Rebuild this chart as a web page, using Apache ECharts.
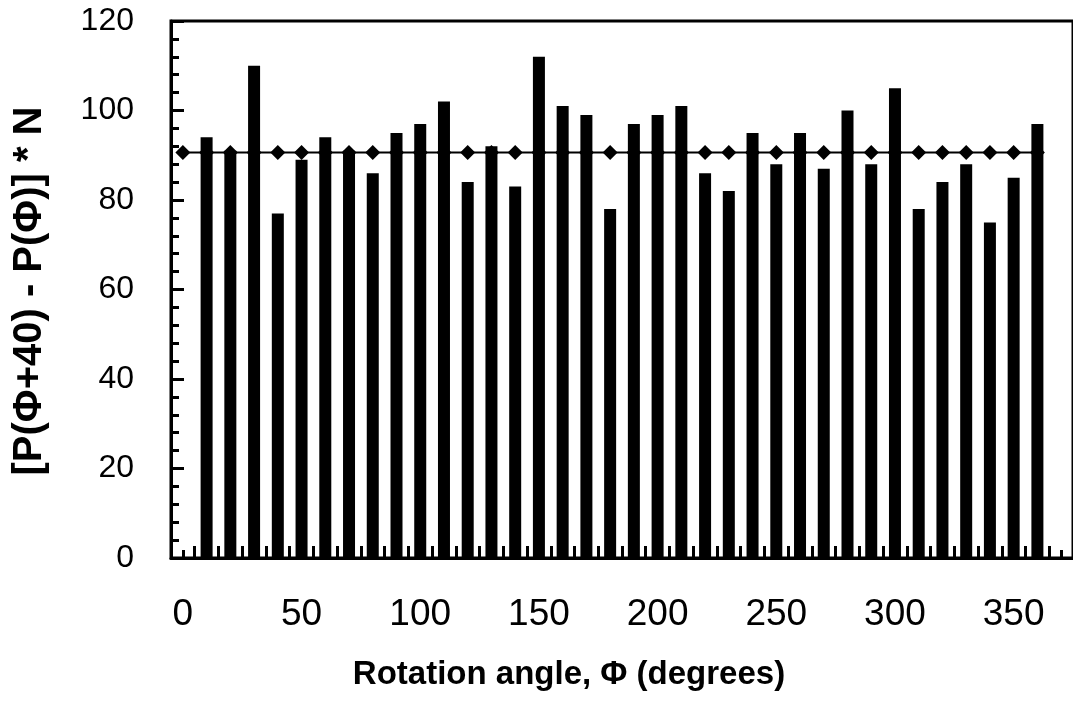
<!DOCTYPE html>
<html>
<head>
<meta charset="utf-8">
<script src="https://cdn.jsdelivr.net/npm/echarts@6/dist/echarts.min.js"></script>
<style>
html,body{margin:0;padding:0;background:#fff;}
#c{width:1073px;height:707px;}
</style>
</head>
<body>
<div id="c"></div>
<script>
// Categories: rotation angle (degrees)
var categories = ['0','10','20','30','40','50','60','70','80','90','100','110','120','130','140','150','160','170','180',
  '190','200','210','220','230','240','250','260','270','280','290','300','310','320','330','340','350','360','370'];
// Bar values [P(Φ+40) - P(Φ)] * N
var barValues = [null,94,91,110,77,89,94,91,86,95,97,102,84,92,83,112,101,99,78,
  97,99,101,86,82,95,88,95,87,100,88,105,78,84,88,75,85,97,null];
// Mean line
var meanValues = [90.6,90.6,90.6,90.6,90.6,90.6,90.6,90.6,90.6,90.6,90.6,90.6,90.6,90.6,90.6,90.6,90.6,90.6,90.6,
  90.6,90.6,90.6,90.6,90.6,90.6,90.6,90.6,90.6,90.6,90.6,90.6,90.6,90.6,90.6,90.6,90.6,90.6,null];
var yTicks = {min:0, max:120, interval:20};
var xTitle = 'Rotation angle, \u03A6 (degrees)';
var yTitle = '[P(\u03A6+40) - P(\u03A6)] * N';

var FONT = '"Liberation Sans", Arial, sans-serif';
var chart = echarts.init(document.getElementById('c'), null, {renderer:'canvas'});
chart.setOption({
  animation:false,
  backgroundColor:'#fff',
  grid:{left:171, right:-4, top:21, bottom:149, show:true, borderColor:'#000', borderWidth:3, backgroundColor:'transparent'},
  xAxis:[{
    type:'category', data:categories, position:'bottom',
    axisLine:{show:true, lineStyle:{color:'#000', width:3}},
    axisTick:{show:true, inside:true, length:12, interval:0, alignWithLabel:false, lineStyle:{color:'#000', width:3}},
    axisLabel:{show:true, interval:4, margin:38, fontSize:37, color:'#000', fontFamily:FONT},
    splitLine:{show:false}
  },{
    type:'category', data:categories, position:'bottom', offset:0,
    axisLine:{show:false},
    axisTick:{show:true, inside:true, length:8, alignWithLabel:true,
      interval:function(i){return i===0 || i===categories.length-1;},
      lineStyle:{color:'#000', width:3}},
    axisLabel:{show:false}, splitLine:{show:false}
  }],
  yAxis:{
    type:'value', min:yTicks.min, max:yTicks.max, interval:yTicks.interval,
    axisLine:{show:true, lineStyle:{color:'#000', width:3}},
    axisTick:{show:true, inside:true, length:13, lineStyle:{color:'#000', width:3}},
    minorTick:{show:true, splitNumber:5, length:8, lineStyle:{color:'#000', width:3}},
    axisLabel:{margin:37, fontSize:32, color:'#000', fontFamily:FONT},
    splitLine:{show:false}
  },
  series:[{
    type:'line', data:meanValues, z:1, xAxisIndex:0,
    symbol:'diamond', symbolSize:15, showSymbol:true,
    lineStyle:{color:'#000', width:2}, itemStyle:{color:'#000'}
  },{
    type:'bar', data:barValues, z:3, xAxisIndex:0, barWidth:12,
    itemStyle:{color:'#000'}
  }],
  graphic:[{
    type:'text', x:569, y:675,
    style:{text:xTitle, font:'bold 33px ' + FONT, fill:'#000', align:'center', verticalAlign:'middle'}
  },{
    type:'text', x:30, y:291, rotation:Math.PI/2,
    style:{text:yTitle, font:'bold 40px ' + FONT, fill:'#000', align:'center', verticalAlign:'middle'}
  }]
});
</script>
</body>
</html>
